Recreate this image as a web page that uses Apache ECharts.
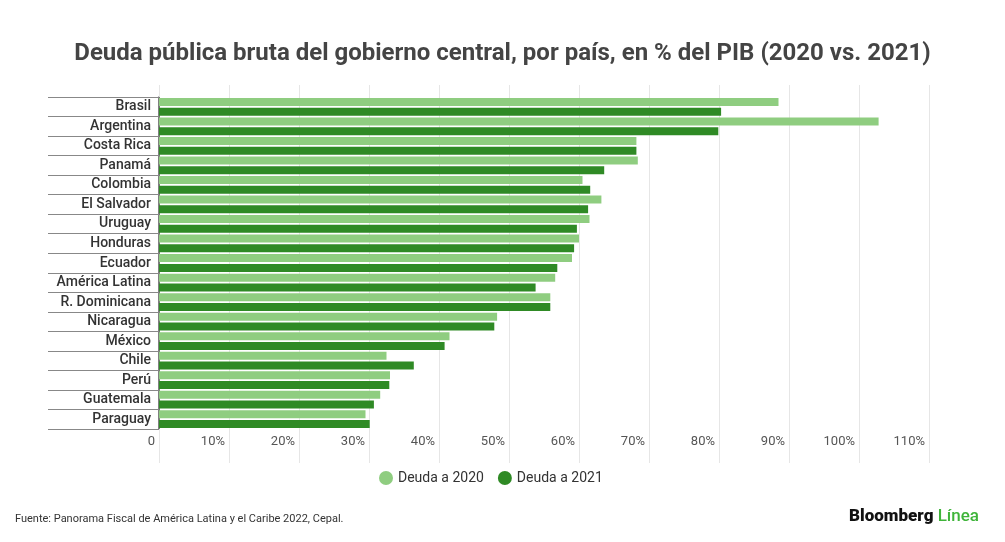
<!DOCTYPE html>
<html>
<head>
<meta charset="utf-8">
<script src="https://cdn.jsdelivr.net/npm/echarts@6/dist/echarts.min.js"></script>
<style>
  html, body { margin: 0; padding: 0; background: #fff; }
  #main { width: 1005px; height: 542px; }
</style>
</head>
<body>
<div id="main"></div>
<script>
// datos (% del PIB)
var paises = ['Brasil', 'Argentina', 'Costa Rica', 'Panamá', 'Colombia', 'El Salvador', 'Uruguay',
  'Honduras', 'Ecuador', 'América Latina', 'R. Dominicana', 'Nicaragua', 'México', 'Chile',
  'Perú', 'Guatemala', 'Paraguay'];
var deuda2020 = [88.5, 102.8, 68.2, 68.4, 60.5, 63.2, 61.5, 60.0, 59.0, 56.6, 55.9, 48.3, 41.5, 32.5, 33.0, 31.6, 29.5];
var deuda2021 = [80.3, 79.9, 68.2, 63.6, 61.6, 61.3, 59.7, 59.3, 56.9, 53.8, 55.9, 47.9, 40.8, 36.4, 32.9, 30.7, 30.1];
var nombresSerie = ['Deuda a 2020', 'Deuda a 2021'];

var verdeClaro = '#8fcd80';
var verdeOscuro = '#2f8a25';

var myChart;

function initializeChart() {
  var chartDom = document.getElementById('main');
  myChart = echarts.init(chartDom);
  var option = {
    backgroundColor: '#ffffff',
    title: {
      text: 'Deuda pública bruta del gobierno central, por país, en % del PIB (2020 vs. 2021)',
      left: 'center',
      top: 37,
      textStyle: {
        fontFamily: 'Roboto',
        fontWeight: 'bold',
        fontSize: 24,
        color: '#444444'
      }
    },
    legend: {
      data: nombresSerie,
      bottom: 52,
      left: 374,
      icon: 'circle',
      itemWidth: 14,
      itemHeight: 14,
      itemGap: 14,
      textStyle: { fontFamily: 'Roboto', fontSize: 14, color: '#333' }
    },
    grid: {
      left: 159,
      right: 76,
      top: 97,
      bottom: 113
    },
    xAxis: [
      {
        type: 'value',
        min: 0,
        max: 110,
        interval: 10,
        position: 'bottom',
        axisLine: { show: false },
        axisTick: { show: true, length: 34, lineStyle: { color: '#e6e6e6' } },
        splitLine: { show: true, lineStyle: { color: '#e6e6e6' } },
        axisLabel: {
          color: '#555',
          fontFamily: 'Roboto',
          fontSize: 13,
          margin: 6,
          align: 'right',
          padding: [0, 4, 0, 0],
          formatter: function (v) { return v === 0 ? '0' : v + '%'; }
        }
      },
      {
        type: 'value',
        min: 0,
        max: 110,
        interval: 10,
        position: 'top',
        axisLine: { show: false },
        axisTick: { show: true, length: 12, lineStyle: { color: '#e6e6e6' } },
        splitLine: { show: false },
        axisLabel: { show: false }
      }
    ],
    yAxis: {
      type: 'category',
      data: paises,
      inverse: true,
      axisLine: { show: true, lineStyle: { color: '#555', width: 1.5 } },
      axisTick: { show: true, length: 111, lineStyle: { color: '#888' } },
      axisLabel: {
        color: '#333',
        fontFamily: 'Roboto',
        fontWeight: 500,
        fontSize: 14,
        margin: 8
      }
    },
    series: [
      {
        name: nombresSerie[0],
        type: 'bar',
        xAxisIndex: 0,
        data: deuda2020,
        barWidth: 8,
        barGap: '22%',
        itemStyle: { color: verdeClaro }
      },
      {
        name: nombresSerie[1],
        type: 'bar',
        xAxisIndex: 0,
        data: deuda2021,
        barWidth: 8,
        barGap: '22%',
        itemStyle: { color: verdeOscuro }
      }
    ],
    graphic: [
      {
        type: 'text',
        left: 15,
        top: 514,
        style: {
          text: 'Fuente: Panorama Fiscal de América Latina y el Caribe 2022, Cepal.',
          fontFamily: 'Roboto',
          fontSize: 11,
          fill: '#333'
        }
      },
      {
        type: 'text',
        right: 26,
        top: 508,
        style: {
          text: '{a|Bloomberg }{b|Línea}',
          rich: {
            a: { fontFamily: 'Roboto', fontWeight: 900, fontSize: 17, fill: '#111' },
            b: { fontFamily: 'Roboto', fontWeight: 500, fontSize: 17, fill: '#3fb43a' }
          }
        }
      }
    ]
  };
  myChart.setOption(option);
}

document.addEventListener('DOMContentLoaded', () => {
  initializeChart();
});
</script>
</body>
</html>
